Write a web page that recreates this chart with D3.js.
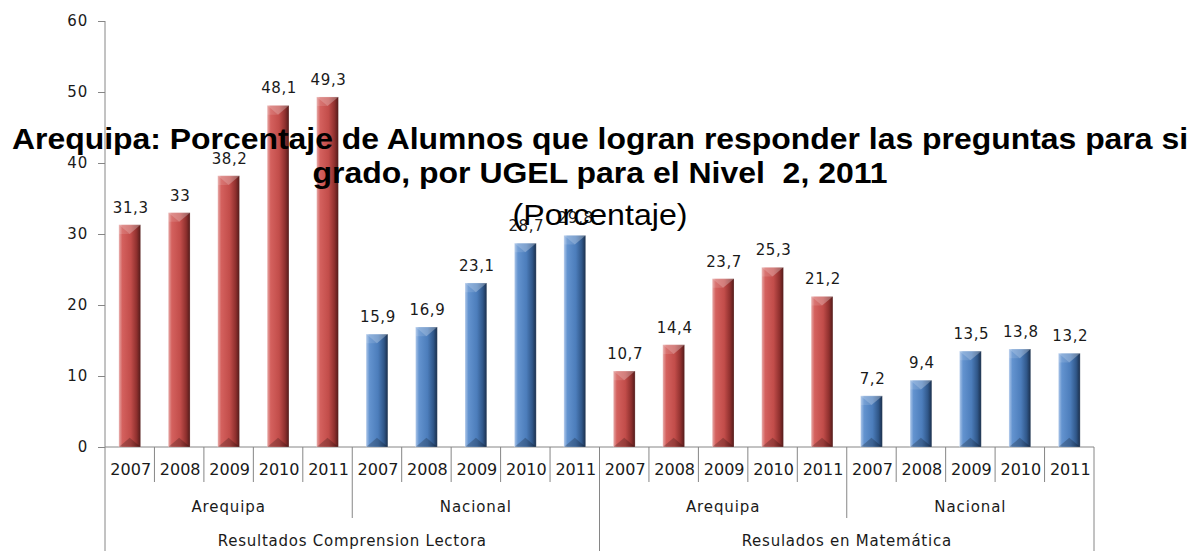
<!DOCTYPE html>
<html>
<head>
<meta charset="utf-8">
<script src="https://cdn.jsdelivr.net/npm/d3@7"></script>
<style>
  html, body { margin: 0; padding: 0; background: #fff; }
  svg { display: block; }
  text { white-space: pre; }
</style>
</head>
<body>
<svg id="chart" width="1196" height="551"></svg>
<script>
// ---- data ----
const years = ["2007", "2008", "2009", "2010", "2011"];
const regions = ["Arequipa", "Nacional"];
const subjects = ["Resultados Comprension Lectora", "Resulados en Matemática"];
const lecturaArequipa = [31.3, 33, 38.2, 48.1, 49.3];
const lecturaNacional = [15.9, 16.9, 23.1, 28.7, 29.8];
const matematicaArequipa = [10.7, 14.4, 23.7, 25.3, 21.2];
const matematicaNacional = [7.2, 9.4, 13.5, 13.8, 13.2];
const yTicks = [0, 10, 20, 30, 40, 50, 60];
const titleLines = [
  "Arequipa: Porcentaje de Alumnos que logran responder las preguntas para si",
  "grado, por UGEL para el Nivel  2, 2011"
];
const subtitle = "(Porcentaje)";

(function () {
// ---- build rows ----
const seriesBySubject = [
  [lecturaArequipa, lecturaNacional],
  [matematicaArequipa, matematicaNacional]
];
const rows = [];
subjects.forEach((s, si) => {
  regions.forEach((r, ri) => {
    years.forEach((yv, yi) => {
      rows.push({ key: s + "|" + r + "|" + yv, subject: s, region: r, year: yv,
                  value: seriesBySubject[si][ri][yi], regionIdx: ri });
    });
  });
});

// ---- layout ----
const svg = d3.select("#chart");
const pLeft = 105, pRight = 1094, pTop = 21, pBase = 447;
const x = d3.scaleBand().domain(rows.map(d => d.key)).range([pLeft, pRight]).paddingInner(0).paddingOuter(0);
const y = d3.scaleLinear().domain([0, 60]).range([pBase, pTop]);
const band = x.bandwidth();
const barW = band * 0.44;

const defs = svg.append("defs");
const palettes = [
  { id: "gRed", stops: [["0%", "#e7a9a7"], ["16%", "#d4615e"], ["55%", "#c24d4a"], ["82%", "#8f302e"], ["100%", "#521b1a"]] },
  { id: "gBlue", stops: [["0%", "#adc7ea"], ["16%", "#6393cf"], ["55%", "#4c7dbb"], ["82%", "#305789"], ["100%", "#1a2e4a"]] }
];
palettes.forEach(p => {
  const g = defs.append("linearGradient").attr("id", p.id).attr("x1", "0").attr("x2", "1").attr("y1", "0").attr("y2", "0");
  p.stops.forEach(s => g.append("stop").attr("offset", s[0]).attr("stop-color", s[1]));
});

const axisColor = "#868686";
const textColor = "#1a1a1a";

// ---- y axis ----
const yAxis = d3.axisLeft(y).tickValues(yTicks).tickSize(7).tickPadding(10).tickFormat(d3.format("d"));
const yg = svg.append("g").attr("transform", `translate(${pLeft},0)`).call(yAxis);
yg.select(".domain").remove();
yg.selectAll(".tick line").attr("stroke", axisColor);
yg.selectAll(".tick text")
  .attr("font-family", "DejaVu Sans, sans-serif").attr("font-size", 15)
  .attr("letter-spacing", "0.8px")
  .attr("fill", textColor);
svg.append("line").attr("x1", pLeft).attr("x2", pLeft).attr("y1", pTop).attr("y2", 551).attr("stroke", axisColor);
svg.append("line").attr("x1", pLeft).attr("x2", pRight).attr("y1", pBase).attr("y2", pBase).attr("stroke", axisColor);

// ---- bars ----
const barsG = svg.append("g");
rows.forEach(d => {
  const cx = x(d.key) + band / 2;
  const x0 = cx - barW / 2, x1 = cx + barW / 2;
  const t = y(d.value), b = y(0);
  const g = barsG.append("g");
  g.append("rect").attr("x", x0).attr("y", t).attr("width", barW).attr("height", b - t)
    .attr("fill", d.regionIdx === 0 ? "url(#gRed)" : "url(#gBlue)");
  const bev = barW * 0.42;
  g.append("path").attr("d", `M${x0},${t}L${x1},${t}L${cx},${t + bev}Z`)
    .attr("fill", "#ffffff").attr("opacity", 0.28);
  g.append("path").attr("d", `M${x0},${t}L${cx},${t + bev}L${x0},${t + bev}Z`)
    .attr("fill", "#ffffff").attr("opacity", 0.12);
  g.append("path").attr("d", `M${x0},${b}L${x1},${b}L${cx},${b - bev}Z`)
    .attr("fill", "#000000").attr("opacity", 0.22);
  g.append("rect").attr("x", x0).attr("y", t).attr("width", barW).attr("height", b - t)
    .attr("fill", "none").attr("stroke", "#ffffff").attr("stroke-opacity", 0.25).attr("stroke-width", 0.8);
});

// ---- data labels ----
const fmt = v => (Number.isInteger(v) ? String(v) : d3.format(".1f")(v).replace(".", ","));
svg.append("g").selectAll("text").data(rows).join("text")
  .attr("x", d => x(d.key) + band / 2 + 1)
  .attr("y", d => y(d.value) - 12)
  .attr("text-anchor", "middle")
  .attr("font-family", "DejaVu Sans, sans-serif").attr("font-size", 15)
  .attr("letter-spacing", "0.6px")
  .attr("fill", textColor)
  .text(d => fmt(d.value));

// ---- category axis (multi-level) ----
const catG = svg.append("g");
rows.forEach((d, i) => {
  if (i === 0) return;
  const xx = x(d.key);
  const isSubject = i % 10 === 0;
  const isRegion = i % 5 === 0;
  const y2 = isSubject ? 551 : (isRegion ? 518 : 482);
  catG.append("line").attr("x1", xx).attr("x2", xx).attr("y1", pBase).attr("y2", y2).attr("stroke", axisColor);
});
catG.append("line").attr("x1", pRight).attr("x2", pRight).attr("y1", pBase).attr("y2", 551).attr("stroke", axisColor);

catG.selectAll("text.year").data(rows).join("text").attr("class", "year")
  .attr("x", d => x(d.key) + band / 2 + 1)
  .attr("y", 475)
  .attr("text-anchor", "middle")
  .attr("font-family", "DejaVu Sans, sans-serif").attr("font-size", 16)
  .attr("fill", textColor)
  .text(d => d.year);

const groupData = [];
subjects.forEach(s => regions.forEach(r => {
  const keys = years.map(yv => s + "|" + r + "|" + yv);
  groupData.push({ label: r, x0: x(keys[0]), x1: x(keys[4]) + band });
}));
catG.selectAll("text.region").data(groupData).join("text").attr("class", "region")
  .attr("x", d => (d.x0 + d.x1) / 2)
  .attr("y", 512)
  .attr("text-anchor", "middle")
  .attr("font-family", "DejaVu Sans, sans-serif").attr("font-size", 15)
  .attr("letter-spacing", "0.9px")
  .attr("fill", textColor)
  .text(d => d.label);

const subjData = subjects.map(s => {
  const first = s + "|" + regions[0] + "|" + years[0];
  const last = s + "|" + regions[1] + "|" + years[4];
  return { label: s, x0: x(first), x1: x(last) + band };
});
catG.selectAll("text.subject").data(subjData).join("text").attr("class", "subject")
  .attr("x", d => (d.x0 + d.x1) / 2)
  .attr("y", 546)
  .attr("text-anchor", "middle")
  .attr("font-family", "DejaVu Sans, sans-serif").attr("font-size", 15)
  .attr("letter-spacing", "0.75px")
  .attr("fill", textColor)
  .text(d => d.label);

// ---- title (drawn over bars) ----
const titleG = svg.append("g");
titleG.append("text").attr("x", 600).attr("y", 149).attr("text-anchor", "middle")
  .attr("font-family", "Liberation Sans, Arial, sans-serif").attr("font-weight", "bold").attr("font-size", 30)
  .attr("textLength", 1176).attr("lengthAdjust", "spacingAndGlyphs")
  .attr("fill", "#000").text(titleLines[0]);
titleG.append("text").attr("x", 600).attr("y", 183).attr("text-anchor", "middle")
  .attr("font-family", "Liberation Sans, Arial, sans-serif").attr("font-weight", "bold").attr("font-size", 30)
  .attr("textLength", 575).attr("lengthAdjust", "spacingAndGlyphs")
  .attr("fill", "#000").text(titleLines[1]);
titleG.append("text").attr("x", 600).attr("y", 225).attr("text-anchor", "middle")
  .attr("font-family", "Liberation Sans, Arial, sans-serif").attr("font-size", 29)
  .attr("textLength", 175).attr("lengthAdjust", "spacingAndGlyphs")
  .attr("fill", "#000").text(subtitle);
})();
</script>
</body>
</html>
